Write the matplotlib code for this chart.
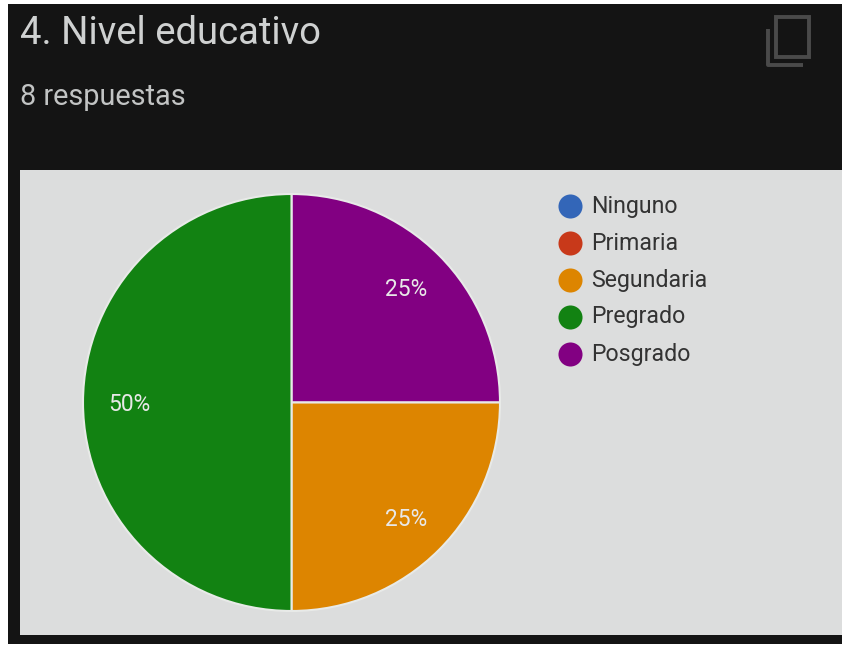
import matplotlib
matplotlib.use('Agg')
import matplotlib.pyplot as plt
from matplotlib.patches import Rectangle

labels = ['Ninguno', 'Primaria', 'Segundaria', 'Pregrado', 'Posgrado']
colors = ['#3366b8', '#c8391a', '#dd8500', '#128212', '#820082']

# slices, clockwise from twelve o'clock
pie_labels = ['Posgrado', 'Segundaria', 'Pregrado']
pie_shares = [25, 25, 50]

title = '4. Nivel educativo'
subtitle = '8 respuestas'

W, H = 842, 645
plt.rcParams['font.family'] = ['Roboto', 'DejaVu Sans']

fig = plt.figure(figsize=(W / 100, H / 100), dpi=100, facecolor='white')
bg = fig.add_axes([0, 0, 1, 1])
bg.set_xlim(0, W)
bg.set_ylim(H, 0)
bg.axis('off')

# dark card with the light chart area on top
bg.add_patch(Rectangle((8, 4), W - 8, 640, color='#141414', lw=0))
bg.add_patch(Rectangle((20, 170), W - 20, 465, color='#dcdddd', lw=0))

bg.text(20, 33.5, title, color='#cfd1d1', fontsize=27.5, va='center')
bg.text(20, 97, subtitle, color='#c2c4c4', fontsize=20.8, va='center')

# copy icon
bg.add_patch(Rectangle((776, 17), 33, 40, fc='none', ec='#4a4a4a', lw=2.8))
bg.plot([768, 768, 803], [29, 65, 65], color='#4a4a4a', lw=2.8, solid_capstyle='butt')

# pie, placed by its centre and radius in pixels
cx, cy, r = 291.5, 402.5, 208.5
ax = fig.add_axes([(cx - r) / W, 1 - (cy + r) / H, 2 * r / W, 2 * r / H])
pie_colors = [colors[labels.index(name)] for name in pie_labels]
wedges, _, autotexts = ax.pie(pie_shares, colors=pie_colors, startangle=90, counterclock=False,
                              radius=1, autopct='%d%%', pctdistance=0.78,
                              wedgeprops={'edgecolor': '#e8eae8', 'linewidth': 1.5},
                              textprops={'color': '#e8e8e8', 'fontsize': 16.4})
ax.set_xlim(-1, 1)
ax.set_ylim(-1, 1)

# percent labels sit slightly below their slice's mid-line
for t in autotexts:
    x, y = t.get_position()
    t.set_position((x, y - 0.008))

# legend
for i, (lab, col) in enumerate(zip(labels, colors)):
    y = 205.5 + i * 37
    bg.scatter([570], [y], s=300, color=col, lw=0)
    bg.text(591.5, y + 0.5, lab, color='#333333', fontsize=16.7, va='center')

fig.savefig('out.png', dpi=100)
